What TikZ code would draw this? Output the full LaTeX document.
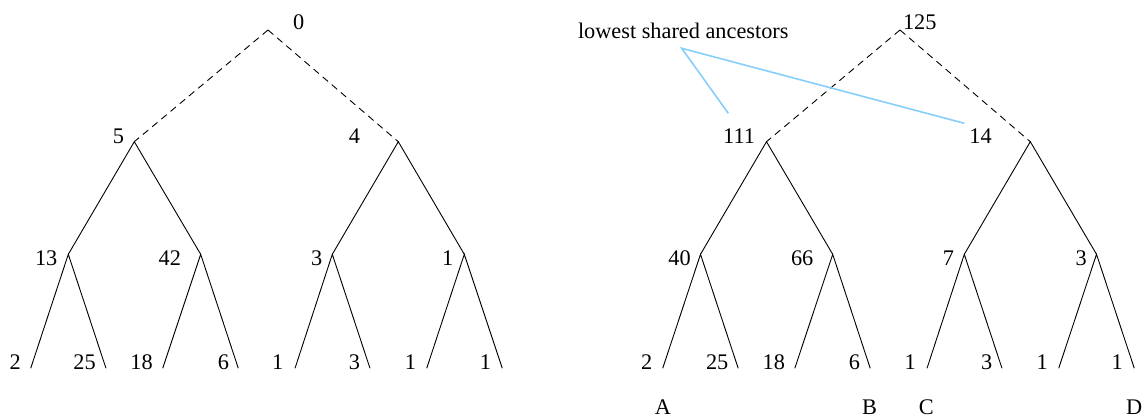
\documentclass[tikz,border=0pt]{standalone}
\usepackage{fontspec}
\setmainfont{Liberation Serif}
\begin{document}
\begin{tikzpicture}[x=1pt,y=-1pt,
  lbl/.style={inner sep=0pt,outer sep=0pt,font=\fontsize{22.3}{26}\selectfont},
  edge/.style={line width=0.9pt,black},
  dedge/.style={line width=0.9pt,black,dash pattern=on 7pt off 5pt},
  note/.style={line width=1.6pt,color=skyblue}]
\definecolor{skyblue}{RGB}{135,206,250}
\useasboundingbox (0,0) rectangle (1144,417);
% ---------- left tree coordinates ----------
\coordinate (Lr) at (268,30);
\coordinate (La1) at (134.3,141.7);
\coordinate (La2) at (398.3,141.7);
\coordinate (Lb1) at (68.3,254.3);
\coordinate (Lb2) at (200.7,254.3);
\coordinate (Lb3) at (332.3,254.3);
\coordinate (Lb4) at (464.3,254.3);
\coordinate (Ll1) at (30.7,368.3);
\coordinate (Ll2) at (106,368.3);
\coordinate (Ll3) at (162.7,368.3);
\coordinate (Ll4) at (238.3,368.3);
\coordinate (Ll5) at (295,368.3);
\coordinate (Ll6) at (370,368.3);
\coordinate (Ll7) at (426.7,368.3);
\coordinate (Ll8) at (502.3,368.3);
% ---------- right tree coordinates ----------
\coordinate (Rr) at (900,30);
\coordinate (Ra1) at (766.5,141.7);
\coordinate (Ra2) at (1030.3,141.7);
\coordinate (Rb1) at (700.5,254.3);
\coordinate (Rb2) at (832.7,254.3);
\coordinate (Rb3) at (964.3,254.3);
\coordinate (Rb4) at (1096.5,254.3);
\coordinate (Rl1) at (662.7,368.3);
\coordinate (Rl2) at (738.2,368.3);
\coordinate (Rl3) at (794.8,368.3);
\coordinate (Rl4) at (870.2,368.3);
\coordinate (Rl5) at (927,368.3);
\coordinate (Rl6) at (1002,368.3);
\coordinate (Rl7) at (1058.7,368.3);
\coordinate (Rl8) at (1134.3,368.3);
% ---------- edges ----------
\foreach \t in {L,R}{
  \draw[dedge] (\t r) -- (\t a1);
  \draw[dedge] (\t r) -- (\t a2);
  \draw[edge] (\t b1) -- (\t a1) -- (\t b2);
  \draw[edge] (\t b3) -- (\t a2) -- (\t b4);
  \draw[edge] (\t l1) -- (\t b1) -- (\t l2);
  \draw[edge] (\t l3) -- (\t b2) -- (\t l4);
  \draw[edge] (\t l5) -- (\t b3) -- (\t l6);
  \draw[edge] (\t l7) -- (\t b4) -- (\t l8);
}
% ---------- left labels ----------
\node[lbl,anchor=base west] (tLr) at (293,30) {0};
\node[lbl,anchor=base east] (tLa1) at (124,144) {5};
\node[lbl,anchor=base east] (tLa2) at (360,144) {4};
\node[lbl,anchor=base east] (tLb1) at (57.3,265.7) {13};
\node[lbl,anchor=base east] (tLb2) at (181,265.7) {42};
\node[lbl,anchor=base east] (tLb3) at (322.3,265.7) {3};
\node[lbl,anchor=base east] (tLb4) at (453.3,265.7) {1};
\node[lbl,anchor=base east] (tLl1) at (20.7,369) {2};
\node[lbl,anchor=base east] (tLl2) at (95.7,369) {25};
\node[lbl,anchor=base east] (tLl3) at (152.7,369) {18};
\node[lbl,anchor=base east] (tLl4) at (229,369) {6};
\node[lbl,anchor=base east] (tLl5) at (283.3,369) {1};
\node[lbl,anchor=base east] (tLl6) at (360,369) {3};
\node[lbl,anchor=base east] (tLl7) at (416,369) {1};
\node[lbl,anchor=base east] (tLl8) at (491,369) {1};
% ---------- right labels ----------
\node[lbl,anchor=base west] (tRr) at (903,30) {125};
\node[lbl,anchor=base east] (tRa1) at (755,143.5) {111};
\node[lbl,anchor=base east] (tRa2) at (991.7,143.5) {14};
\node[lbl,anchor=base east] (tRb1) at (690.7,265) {40};
\node[lbl,anchor=base east] (tRb2) at (813.3,265) {66};
\node[lbl,anchor=base east] (tRb3) at (954,265) {7};
\node[lbl,anchor=base east] (tRb4) at (1086.7,265) {3};
\node[lbl,anchor=base east] (tRl1) at (652.3,369) {2};
\node[lbl,anchor=base east] (tRl2) at (728.3,369) {25};
\node[lbl,anchor=base east] (tRl3) at (785,369) {18};
\node[lbl,anchor=base east] (tRl4) at (860,369) {6};
\node[lbl,anchor=base east] (tRl5) at (915.7,369) {1};
\node[lbl,anchor=base east] (tRl6) at (992.3,369) {3};
\node[lbl,anchor=base east] (tRl7) at (1047.7,369) {1};
\node[lbl,anchor=base east] (tRl8) at (1122.7,369) {1};
\node[lbl,anchor=base] (lA) at (663,414) {A};
\node[lbl,anchor=base] (lB) at (869.5,414) {B};
\node[lbl,anchor=base] (lC) at (926.3,414) {C};
\node[lbl,anchor=base] (lD) at (1134.2,414) {D};
% ---------- annotation ----------
\node[lbl,anchor=base west] (note) at (578,39) {lowest shared ancestors};
\coordinate (nv) at (681.7,48.3);
\coordinate (n1) at (728.3,113.3);
\coordinate (n2) at (964.3,123.3);
\draw[note] (n1) -- (nv) -- (n2);
\end{tikzpicture}
\end{document}
